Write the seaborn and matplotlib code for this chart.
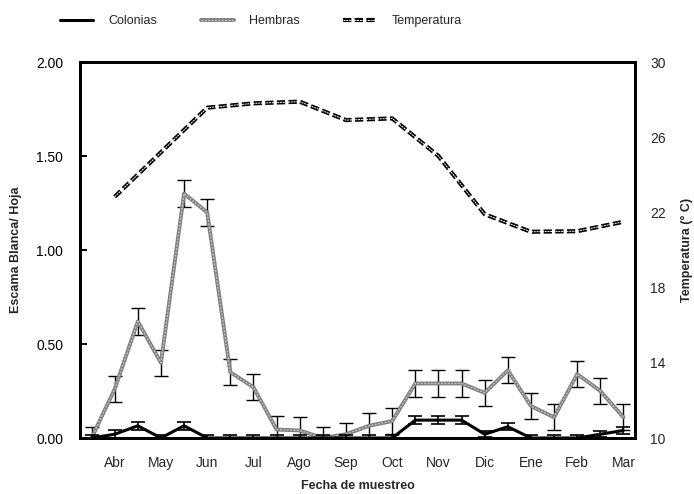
import numpy as np
import pandas as pd
import matplotlib
matplotlib.use("Agg")
import matplotlib.pyplot as plt
import seaborn as sns
from matplotlib.lines import Line2D

# ---- data ----
muestreo = list(range(24))
meses = ["Abr", "May", "Jun", "Jul", "Ago", "Sep", "Oct", "Nov", "Dic", "Ene", "Feb", "Mar"]
mes_pos = [1, 3, 5, 7, 9, 11, 13, 15, 17, 19, 21, 23]

hembras = [0.00, 0.26, 0.62, 0.40, 1.30, 1.20, 0.35, 0.27, 0.045, 0.04, 0.00, 0.02,
           0.065, 0.09, 0.29, 0.29, 0.29, 0.24, 0.36, 0.17, 0.11, 0.34, 0.25, 0.11]
hembras_err = [0.06, 0.07, 0.07, 0.07, 0.07, 0.07, 0.07, 0.07, 0.07, 0.07, 0.06, 0.06,
               0.07, 0.07, 0.07, 0.07, 0.07, 0.07, 0.07, 0.07, 0.07, 0.07, 0.07, 0.07]
colonias = [0.00, 0.02, 0.065, 0.00, 0.065, 0.00, 0.00, 0.00, 0.00, 0.00, 0.00, 0.00,
            0.00, 0.00, 0.095, 0.095, 0.095, 0.02, 0.06, 0.00, 0.00, 0.00, 0.02, 0.04]
colonias_err = [0.015, 0.02, 0.02, 0.015, 0.02, 0.015, 0.015, 0.015, 0.015, 0.015, 0.015, 0.015,
                0.015, 0.015, 0.02, 0.02, 0.02, 0.015, 0.02, 0.015, 0.015, 0.015, 0.015, 0.02]
temperatura = [22.83, 25.2, 27.57, 27.8, 27.89, 26.91, 27.0, 25.0, 21.9, 20.97, 21.0, 21.5]

df = pd.DataFrame({"x": muestreo, "hembras": hembras, "h_err": hembras_err,
                   "colonias": colonias, "c_err": colonias_err})
dft = pd.DataFrame({"x": mes_pos, "temp": temperatura})

sns.set_style("white")
plt.rcParams["font.family"] = ["Liberation Sans", "DejaVu Sans"]

fig = plt.figure(figsize=(6.94, 4.94), dpi=100)
ax = fig.add_axes([80/694, 1-438/494, (635-80)/694, (438-62)/494])
ax2 = ax.twinx()

T_DASH = [2.0, 0.8]
H_DASH = [1.5, 1.2]

# temperature (right axis)
sns.lineplot(data=dft, x="x", y="temp", ax=ax2, color="black", lw=3.0, legend=False, zorder=2)
ax2.lines[-1].set_dashes(T_DASH)
sns.lineplot(data=dft, x="x", y="temp", ax=ax2, color="white", lw=0.7, legend=False, zorder=3)
ax2.lines[-1].set_dashes(T_DASH)

# hembras
ax.errorbar(df["x"], df["hembras"], yerr=df["h_err"], fmt="none", ecolor="black",
            elinewidth=1.0, capsize=5, capthick=1.0, zorder=3)
sns.lineplot(data=df, x="x", y="hembras", ax=ax, color="#808080", lw=2.8, legend=False, zorder=4)
sns.lineplot(data=df, x="x", y="hembras", ax=ax, color="#c8c8c8", lw=0.9, legend=False, zorder=5)
ax.lines[-1].set_dashes(H_DASH)

# colonias
ax.errorbar(df["x"], df["colonias"], yerr=df["c_err"], fmt="none", ecolor="black",
            elinewidth=1.2, capsize=5, capthick=1.2, zorder=6)
sns.lineplot(data=df, x="x", y="colonias", ax=ax, color="black", lw=2.2, legend=False, zorder=7)

ax.set_zorder(ax2.get_zorder() + 1)
ax.patch.set_visible(False)

ax.set_xlim(-0.5, 23.5)
ax.set_ylim(0, 2.0)
ax2.set_ylim(10, 30)
ax.set_yticks([0, 0.5, 1.0, 1.5, 2.0])
ax.set_yticklabels(["0.00", "0.50", "1.00", "1.50", "2.00"])
ax2.set_yticks([10, 14, 18, 22, 26, 30])
ax.set_xticks(mes_pos)
ax.set_xticklabels(meses)

ax.tick_params(axis="y", direction="in", length=5, width=1.5, labelsize=10, pad=12, colors="black")
ax.tick_params(axis="x", length=0, labelsize=10, pad=13)
ax2.tick_params(axis="y", length=0, labelsize=10, pad=11)

ax.set_xlabel("Fecha de muestreo", fontsize=9, fontweight="bold", labelpad=7)
ax.set_ylabel("Escama Blanca/ Hoja", fontsize=9, fontweight="bold", labelpad=10)
ax2.set_ylabel("Temperatura (° C)", fontsize=9, fontweight="bold", labelpad=11)

for a in (ax, ax2):
    for s in a.spines.values():
        s.set_linewidth(2.0)
        s.set_color("black")
        s.set_visible(True)

# legend
h1 = Line2D([], [], color="black", lw=2.2)
h2 = (Line2D([], [], color="#808080", lw=2.8), Line2D([], [], color="#c8c8c8", lw=0.9, dashes=H_DASH))
h3 = (Line2D([], [], color="black", lw=3.0, dashes=T_DASH), Line2D([], [], color="white", lw=0.7, dashes=T_DASH))
fig.legend([h1, h2, h3], ["Colonias", "Hembras", "Temperatura"], ncol=3, frameon=False,
           loc="center", bbox_to_anchor=(261/694, 1-21/494), fontsize=9,
           handlelength=2.64, columnspacing=3.5, handletextpad=1.2)

fig.savefig("out.png", dpi=100)
